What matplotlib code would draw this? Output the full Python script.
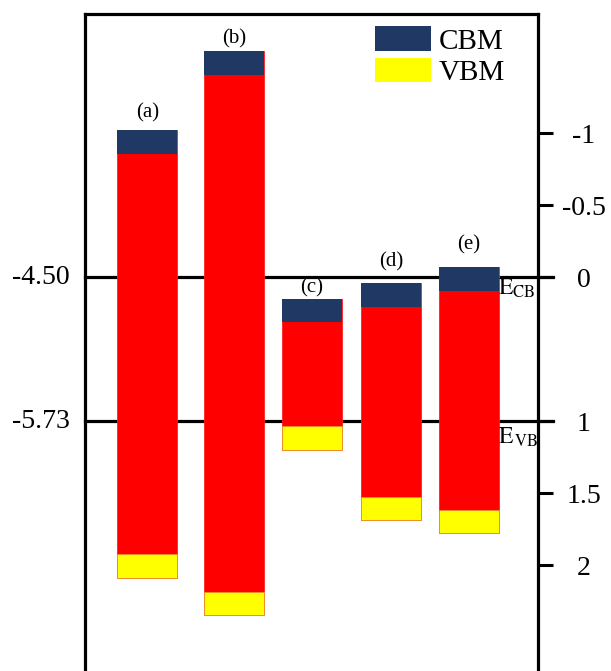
import matplotlib
matplotlib.use('Agg')
import matplotlib.pyplot as plt
from matplotlib.patches import Patch

plt.rcParams['font.family'] = ['Liberation Serif', 'DejaVu Serif']
plt.rcParams['mathtext.fontset'] = 'stix'

# band edges on the right-hand scale (0 <-> -4.50 eV, 1 <-> -5.73 eV)
labels = ['(a)', '(b)', '(c)', '(d)', '(e)']
cb_edge = [-1.02, -1.57, 0.15, 0.04, -0.07]
vb_edge = [2.09, 2.35, 1.20, 1.69, 1.78]
band = 0.165

right_ticks = [-1, -0.5, 0, 1, 1.5, 2]
right_ticklabels = ['-1', '-0.5', '0', '1', '1.5', '2']
left_ticks = [0, 1]
left_ticklabels = ['-4.50', '-5.73']

# layout (pixel-like x units)
centers = [147.5, 234.5, 312, 391, 469]
width = 60
label_gap = [0.05, 0.02, 0.01, 0.08, 0.09]

fig = plt.figure(figsize=(6.11, 6.71), dpi=100)
ax = fig.add_axes([0.139, 0.0, 0.7415, 0.979])

blue = '#203864'
for x, cb, vb, lab, gap in zip(centers, cb_edge, vb_edge, labels, label_gap):
    ax.bar(x, vb - cb, bottom=cb, width=width, color='#ff0000',
           edgecolor='#ff2020', linewidth=0.6, zorder=3)
    ax.bar(x, band, bottom=cb, width=width, color=blue, zorder=4)
    ax.bar(x, band, bottom=vb - band, width=width, color='#ffff00',
           edgecolor='#e89030', linewidth=0.5, zorder=4)
    ax.text(x, cb - gap, lab, ha='center', va='bottom', fontsize=15, zorder=5)

for y in left_ticks:
    ax.axhline(y, xmin=0, xmax=1.033, color='black', lw=2.3, zorder=1,
               clip_on=False)

ax.set_xlim(85, 538)
ax.set_ylim(2.736, -1.826)
ax.set_xticks([])

ax.yaxis.tick_right()
ax.set_yticks(right_ticks)
ax.set_yticklabels(right_ticklabels, fontsize=20)
ax.tick_params(axis='y', direction='out', length=11, width=2.2, pad=22)
for t in ax.get_yticklabels():
    t.set_horizontalalignment('center')

for y, s in zip(left_ticks, left_ticklabels):
    ax.text(-0.033, y, s, transform=ax.get_yaxis_transform(), ha='right',
            va='center', fontsize=20)

ax.text(0.912, 0.08, r'$\mathrm{E_{CB}}$', transform=ax.get_yaxis_transform(),
        ha='left', va='center', fontsize=17)
ax.text(0.912, 1.11, r'$\mathrm{E_{\,VB}}$', transform=ax.get_yaxis_transform(),
        ha='left', va='center', fontsize=17)

ax.spines['bottom'].set_visible(False)
for s in ['left', 'right', 'top']:
    ax.spines[s].set_linewidth(2.3)

handles = [Patch(facecolor=blue, label='CBM'),
           Patch(facecolor='#ffff00', label='VBM')]
ax.legend(handles=handles, loc='upper right', bbox_to_anchor=(0.94, 0.99),
          frameon=False, fontsize=21, handlelength=1.95, handleheight=0.9,
          handletextpad=0.25, labelspacing=0.12, borderaxespad=0.0,
          borderpad=0.2)

fig.savefig('out.png', dpi=100)
